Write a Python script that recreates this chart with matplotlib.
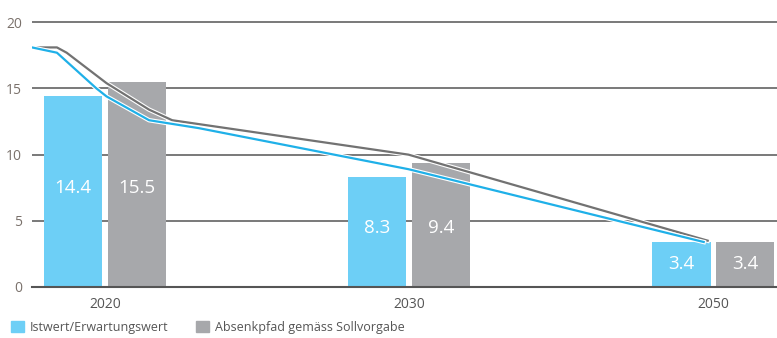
import matplotlib.pyplot as plt
import matplotlib.patheffects as pe
from matplotlib.patches import Patch
import numpy as np

plt.rcParams['font.family'] = ['Open Sans', 'DejaVu Sans']

# Jahre und Werte der Balken
years = ['2020', '2030', '2050']
istwert = [14.4, 8.3, 3.4]
absenkpfad = [15.5, 9.4, 3.4]

# Verlauf der Linien (x in Kategorien-Einheiten)
ist_line_x = [-0.24, -0.158, -0.028, 0.005, 0.145, 0.309, 0.998, 1.969]
ist_line_y = [18.1, 17.7, 15.0, 14.4, 12.6, 12.0, 8.9, 3.4]
soll_line_x = [-0.24, -0.158, -0.126, 0.005, 0.145, 0.221, 0.998, 1.982]
soll_line_y = [18.1, 18.1, 17.7, 15.4, 13.4, 12.6, 10.0, 3.5]

blue = '#6dcff6'
grey = '#a7a8ab'
blue_line = '#1fb0e8'
grey_line = '#727272'

fig = plt.figure(figsize=(7.77, 3.38), dpi=100)
ax = fig.add_axes([32 / 777, 51 / 338, 1 - 32 / 777, (287 - 18.3) / 338])

x = np.arange(len(years))
w = 0.193
off = 0.105
ax.bar(x - off, istwert, width=w, color=blue, zorder=2)
ax.bar(x + off, absenkpfad, width=w, color=grey, zorder=2)

for i in range(len(years)):
    ymid = (istwert[i] + absenkpfad[i]) / 4
    ax.text(x[i] - off, ymid, f'{istwert[i]:.1f}', color='white', fontsize=13.5,
            ha='center', va='center', zorder=4)
    ax.text(x[i] + off, ymid, f'{absenkpfad[i]:.1f}', color='white', fontsize=13.5,
            ha='center', va='center', zorder=4)

outline = [pe.Stroke(linewidth=3.2, foreground='white'), pe.Normal()]
ax.plot(soll_line_x, soll_line_y, color=grey_line, lw=1.6, zorder=3,
        path_effects=outline, solid_joinstyle='round')
ax.plot(ist_line_x, ist_line_y, color=blue_line, lw=1.6, zorder=3,
        path_effects=outline, solid_joinstyle='round')

ax.set_xlim(-0.24, 2.21)
ax.set_ylim(0, 20.3)
ax.set_yticks([0, 5, 10, 15, 20])
ax.set_xticks(x)
ax.set_xticklabels(years)

for yv in [5, 10, 15, 20]:
    ax.axhline(yv, color='#6e6e6e', lw=1.3, zorder=1)

for s in ['top', 'right', 'left']:
    ax.spines[s].set_visible(False)
ax.spines['bottom'].set_color('#555555')
ax.spines['bottom'].set_linewidth(1.5)

ax.tick_params(axis='y', length=0, pad=7, labelsize=10, labelcolor='#7a716b')
ax.tick_params(axis='x', length=0, pad=7, labelsize=10, labelcolor='#555555')

handles = [Patch(color=blue, label='Istwert/Erwartungswert'),
           Patch(color=grey, label='Absenkpfad gemäss Sollvorgabe')]
fig.legend(handles=handles, loc='lower left', bbox_to_anchor=(0.0, -0.02), ncol=2,
           frameon=False, fontsize=9, handlelength=1.0, handleheight=1.0,
           handletextpad=0.5, columnspacing=2.2, labelcolor='#555555')

fig.savefig('out.png', dpi=100)
